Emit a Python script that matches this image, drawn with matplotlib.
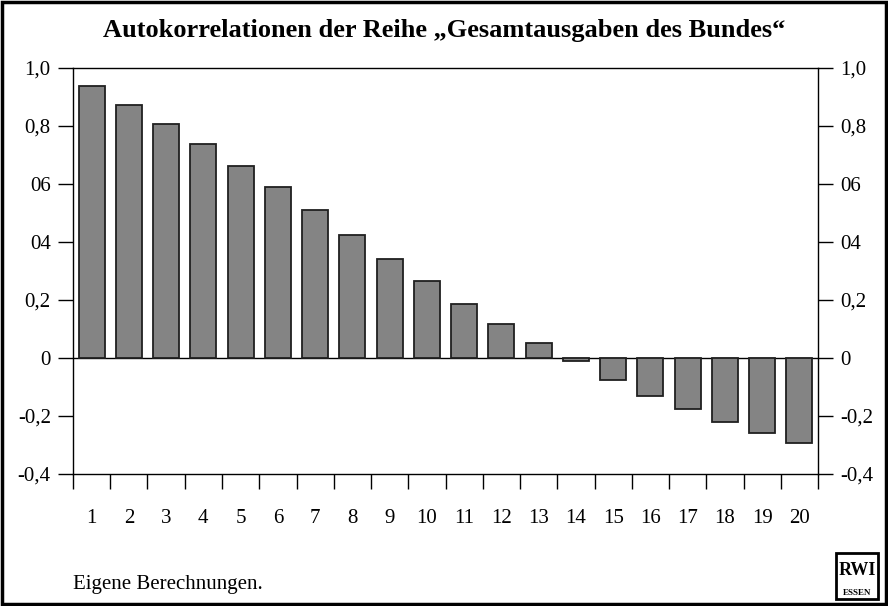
import numpy as np
import matplotlib.pyplot as plt
from matplotlib.patches import Rectangle

# Autokorrelationen
lags = list(range(1, 21))
acf = [0.938, 0.872, 0.807, 0.738, 0.662, 0.590, 0.510, 0.424, 0.341, 0.266,
       0.186, 0.117, 0.052, -0.010, -0.076, -0.131, -0.176, -0.220, -0.259, -0.293]
yticks = [1.0, 0.8, 0.6, 0.4, 0.2, 0.0, -0.2, -0.4]
ytick_labels = ["1,0", "0,8", "06", "04", "0,2", "0", "-0,2", "-0,4"]

plt.rcParams['font.family'] = ['Liberation Serif', 'DejaVu Serif']

fig = plt.figure(figsize=(8.88, 6.06), dpi=100)
ax = fig.add_axes([0.0822, 0.2178, 0.839, 0.67])

ax.bar(lags, acf, width=0.70, color="#848484", edgecolor="#202020", linewidth=1.3, zorder=3)
ax.axhline(0, color="black", linewidth=1.0, zorder=2)

ax.set_xlim(0.5, 20.5)
ax.set_ylim(-0.4, 1.0)

# y-Achse links und rechts
ax.set_yticks(yticks)
ax.set_yticklabels(ytick_labels)
ax.tick_params(axis="y", which="both", direction="out", length=11, width=1.0,
               labelsize=15, left=True, right=True, labelleft=True, labelright=True, pad=5)

# x-Achse: Striche zwischen den Balken, Beschriftung mittig
ax.set_xticks(np.arange(0.5, 21, 1))
ax.set_xticklabels([])
ax.set_xticks(lags, minor=True)
ax.set_xticklabels([str(l) for l in lags], minor=True)
ax.tick_params(axis="x", which="major", direction="out", length=10.5, width=1.0)
ax.tick_params(axis="x", which="minor", length=0, labelsize=15, pad=25)

for s in ax.spines.values():
    s.set_linewidth(1.0)

fig.text(0.5, 0.95, "Autokorrelationen der Reihe \u201eGesamtausgaben des Bundes\u201c",
         ha="center", va="center", fontsize=19, fontweight="bold")
fig.text(0.0822, 0.035, "Eigene Berechnungen.", ha="left", va="center", fontsize=15)

# RWI-Logo
fig.patches.append(Rectangle((0.9414, 0.0116), 0.0473, 0.076, transform=fig.transFigure,
                             fill=False, edgecolor="black", linewidth=2.0))
fig.text(0.965, 0.059, "RWI", ha="center", va="center", fontsize=13, fontweight="bold")
fig.text(0.965, 0.022, "ESSEN", ha="center", va="center", fontsize=6.5, fontweight="bold")

# Rahmen um die Abbildung
fig.patches.append(Rectangle((0.002, 0.003), 0.996, 0.994, transform=fig.transFigure,
                             fill=False, edgecolor="black", linewidth=2.5))

plt.savefig("out.png", dpi=100)
